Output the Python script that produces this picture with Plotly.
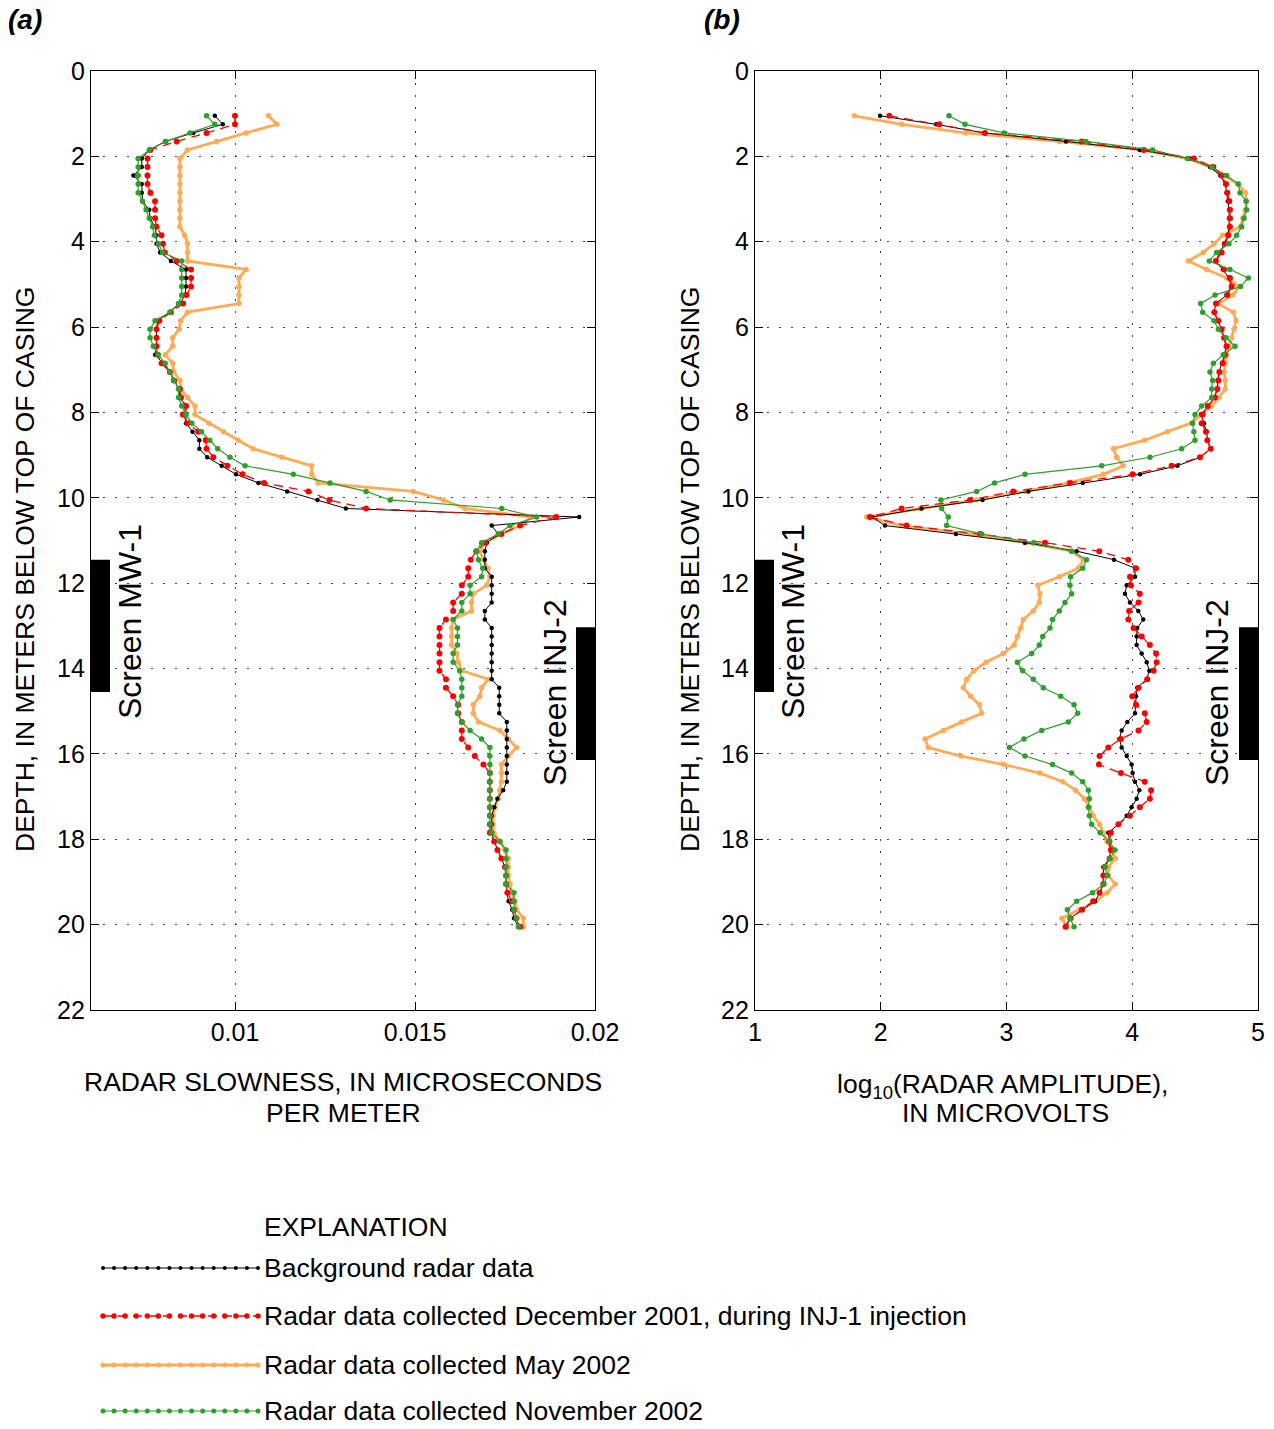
import plotly.graph_objects as go

W, H = 1274, 1429

# ---------------- data ----------------
DEPTH_M = [1.05, 1.25, 1.45, 1.65, 1.85, 2.05, 2.25, 2.45, 2.65, 2.85,
           3.05, 3.25, 3.45, 3.65, 3.85, 4.05, 4.25, 4.45, 4.65, 4.85,
           5.05, 5.25, 5.45, 5.65, 5.85, 6.05, 6.25, 6.45, 6.65, 6.85,
           7.05, 7.25, 7.45, 7.65, 7.85, 8.05, 8.25, 8.45, 8.65, 8.85,
           9.05, 9.25, 9.45, 9.65, 9.85, 10.05, 10.25, 10.45, 10.65, 10.85,
           11.05, 11.25, 11.45, 11.65, 11.85, 12.05, 12.25, 12.45, 12.65, 12.85,
           13.05, 13.25, 13.45, 13.65, 13.85, 14.05, 14.25, 14.45, 14.65, 14.85,
           15.05, 15.25, 15.45, 15.65, 15.85, 16.05, 16.25, 16.45, 16.65, 16.85,
           17.05, 17.25, 17.45, 17.65, 17.85, 18.05, 18.25, 18.45, 18.65, 18.85,
           19.05, 19.25, 19.45, 19.65, 19.85, 20.05]

# (a) radar slowness, microseconds per meter
SLOW_BACKGROUND = [
    0.00944, 0.00966, 0.00884, 0.00806, 0.00762, 0.00741, 0.00741, 0.00718, 0.00741, 0.00741,
    0.00743, 0.00762, 0.00764, 0.00778, 0.00782, 0.00782, 0.00792, 0.00822, 0.00864, 0.00864,
    0.00864, 0.00861, 0.00847, 0.00819, 0.00785, 0.00782, 0.00782, 0.00782, 0.00778, 0.00801,
    0.00819, 0.00833, 0.00843, 0.00847, 0.00864, 0.00864, 0.00864, 0.00882, 0.00901, 0.00901,
    0.00923, 0.00963, 0.01003, 0.01065, 0.01145, 0.01229, 0.01308, 0.01956, 0.01713, 0.01731,
    0.01700, 0.01694, 0.01694, 0.01694, 0.01713, 0.01713, 0.01713, 0.01713, 0.01694, 0.01694,
    0.01713, 0.01713, 0.01713, 0.01713, 0.01713, 0.01713, 0.01713, 0.01734, 0.01734, 0.01734,
    0.01734, 0.01755, 0.01755, 0.01755, 0.01755, 0.01755, 0.01755, 0.01755, 0.01755, 0.01745,
    0.01729, 0.01720, 0.01713, 0.01713, 0.01713, 0.01720, 0.01729, 0.01740, 0.01750, 0.01753,
    0.01755, 0.01755, 0.01760, 0.01770, 0.01775, 0.01787]
SLOW_DEC2001 = [
    0.01000, 0.01000, 0.00921, 0.00838, 0.00765, 0.00757, 0.00757, 0.00757, 0.00757, 0.00765,
    0.00778, 0.00778, 0.00778, 0.00782, 0.00796, 0.00800, 0.00805, 0.00838, 0.00878, 0.00878,
    0.00878, 0.00865, 0.00856, 0.00822, 0.00790, 0.00782, 0.00782, 0.00782, 0.00785, 0.00796,
    0.00819, 0.00830, 0.00847, 0.00850, 0.00864, 0.00855, 0.00868, 0.00898, 0.00919, 0.00921,
    0.00940, 0.00979, 0.01021, 0.01081, 0.01204, 0.01262, 0.01364, 0.01892, 0.01792, 0.01740,
    0.01695, 0.01670, 0.01655, 0.01648, 0.01648, 0.01630, 0.01630, 0.01606, 0.01606, 0.01586,
    0.01568, 0.01568, 0.01568, 0.01568, 0.01568, 0.01568, 0.01586, 0.01586, 0.01606, 0.01620,
    0.01620, 0.01630, 0.01630, 0.01630, 0.01648, 0.01666, 0.01690, 0.01708, 0.01708, 0.01708,
    0.01708, 0.01708, 0.01708, 0.01708, 0.01708, 0.01720, 0.01729, 0.01740, 0.01750, 0.01753,
    0.01753, 0.01757, 0.01769, 0.01775, 0.01782, 0.01792]
SLOW_MAY2002 = [
    0.01093, 0.01116, 0.01031, 0.00949, 0.00868, 0.00847, 0.00847, 0.00847, 0.00847, 0.00847,
    0.00847, 0.00847, 0.00847, 0.00847, 0.00860, 0.00868, 0.00868, 0.00868, 0.01031, 0.01011,
    0.01011, 0.01011, 0.01011, 0.00868, 0.00849, 0.00845, 0.00827, 0.00827, 0.00806, 0.00827,
    0.00830, 0.00847, 0.00849, 0.00868, 0.00889, 0.00889, 0.00928, 0.00968, 0.01009, 0.01051,
    0.01131, 0.01213, 0.01213, 0.01231, 0.01495, 0.01579, 0.01639, 0.01824, 0.01792, 0.01736,
    0.01694, 0.01680, 0.01690, 0.01703, 0.01708, 0.01699, 0.01662, 0.01657, 0.01657, 0.01606,
    0.01602, 0.01602, 0.01602, 0.01616, 0.01620, 0.01630, 0.01703, 0.01685, 0.01680, 0.01662,
    0.01662, 0.01676, 0.01736, 0.01759, 0.01782, 0.01759, 0.01740, 0.01740, 0.01740, 0.01736,
    0.01731, 0.01722, 0.01717, 0.01717, 0.01719, 0.01736, 0.01750, 0.01759, 0.01759, 0.01759,
    0.01764, 0.01769, 0.01778, 0.01782, 0.01801, 0.01801]
SLOW_NOV2002 = [
    0.00921, 0.00944, 0.00875, 0.00808, 0.00762, 0.00731, 0.00731, 0.00731, 0.00731, 0.00731,
    0.00743, 0.00753, 0.00762, 0.00771, 0.00776, 0.00787, 0.00799, 0.00852, 0.00852, 0.00852,
    0.00852, 0.00852, 0.00843, 0.00819, 0.00778, 0.00764, 0.00764, 0.00773, 0.00787, 0.00806,
    0.00819, 0.00830, 0.00843, 0.00843, 0.00852, 0.00864, 0.00880, 0.00907, 0.00930, 0.00952,
    0.00986, 0.01028, 0.01162, 0.01264, 0.01364, 0.01431, 0.01741, 0.01838, 0.01764, 0.01731,
    0.01685, 0.01671, 0.01676, 0.01688, 0.01685, 0.01653, 0.01653, 0.01630, 0.01630, 0.01606,
    0.01618, 0.01618, 0.01618, 0.01606, 0.01606, 0.01624, 0.01630, 0.01630, 0.01630, 0.01618,
    0.01618, 0.01630, 0.01653, 0.01685, 0.01708, 0.01708, 0.01708, 0.01708, 0.01708, 0.01708,
    0.01708, 0.01708, 0.01708, 0.01708, 0.01713, 0.01736, 0.01753, 0.01753, 0.01753, 0.01753,
    0.01753, 0.01775, 0.01775, 0.01775, 0.01782, 0.01787]

# (b) log10(radar amplitude), microvolts
AMP_BACKGROUND = [
    1.994, 2.440, 2.821, 3.473, 4.060, 4.460, 4.620, 4.700, 4.740, 4.750,
    4.760, 4.770, 4.770, 4.770, 4.760, 4.730, 4.700, 4.660, 4.720, 4.770,
    4.785, 4.750, 4.665, 4.650, 4.680, 4.710, 4.730, 4.745, 4.735, 4.715,
    4.690, 4.680, 4.675, 4.655, 4.600, 4.550, 4.570, 4.590, 4.600, 4.620,
    4.540, 4.359, 4.062, 3.606, 3.174, 2.810, 2.325, 1.930, 2.034, 2.598,
    3.147, 3.558, 3.855, 4.022, 4.022, 3.956, 3.942, 3.982, 4.048, 4.088,
    4.040, 4.035, 4.035, 4.075, 4.115, 4.136, 4.115, 4.040, 4.030, 4.025,
    4.022, 3.961, 3.916, 3.897, 3.916, 3.956, 3.995, 4.003, 4.022, 4.056,
    4.035, 3.995, 3.956, 3.889, 3.810, 3.818, 3.828, 3.818, 3.770, 3.770,
    3.770, 3.744, 3.704, 3.606, 3.505, 3.465]
AMP_DEC2001 = [
    2.068, 2.466, 2.829, 3.598, 4.093, 4.491, 4.645, 4.711, 4.746, 4.756,
    4.772, 4.777, 4.777, 4.777, 4.764, 4.738, 4.711, 4.665, 4.730, 4.777,
    4.791, 4.756, 4.666, 4.653, 4.685, 4.711, 4.730, 4.751, 4.738, 4.719,
    4.693, 4.685, 4.677, 4.658, 4.600, 4.560, 4.552, 4.586, 4.597, 4.624,
    4.539, 4.313, 4.003, 3.505, 3.054, 2.710, 2.166, 1.914, 2.206, 2.790,
    3.306, 3.738, 3.969, 4.030, 3.982, 3.990, 4.060, 4.050, 3.975, 3.969,
    4.010, 4.075, 4.140, 4.190, 4.194, 4.170, 4.120, 4.050, 4.000, 4.030,
    4.100, 4.115, 4.050, 3.910, 3.810, 3.740, 3.735, 3.910, 4.100, 4.150,
    4.140, 4.060, 3.980, 3.890, 3.830, 3.818, 3.830, 3.820, 3.780, 3.770,
    3.770, 3.740, 3.690, 3.600, 3.510, 3.470]
AMP_MAY2002 = [
    1.790, 2.166, 2.674, 3.420, 4.075, 4.440, 4.620, 4.730, 4.840, 4.900,
    4.910, 4.900, 4.880, 4.860, 4.720, 4.650, 4.565, 4.446, 4.592, 4.751,
    4.852, 4.800, 4.685, 4.804, 4.825, 4.810, 4.790, 4.770, 4.750, 4.740,
    4.730, 4.740, 4.740, 4.690, 4.630, 4.550, 4.470, 4.280, 4.100, 3.850,
    3.876, 3.929, 3.770, 3.492, 3.147, 2.763, 2.312, 1.888, 2.166, 2.736,
    3.147, 3.518, 3.611, 3.571, 3.420, 3.250, 3.266, 3.261, 3.213, 3.134,
    3.113, 3.086, 3.060, 2.975, 2.837, 2.742, 2.683, 2.657, 2.715, 2.784,
    2.803, 2.644, 2.498, 2.352, 2.378, 2.638, 2.980, 3.266, 3.447, 3.550,
    3.620, 3.660, 3.690, 3.740, 3.770, 3.800, 3.840, 3.865, 3.810, 3.810,
    3.865, 3.800, 3.710, 3.580, 3.440, 3.480]
AMP_NOV2002 = [
    2.543, 2.670, 2.980, 3.632, 4.162, 4.438, 4.632, 4.751, 4.844, 4.857,
    4.905, 4.910, 4.889, 4.870, 4.830, 4.769, 4.671, 4.613, 4.777, 4.923,
    4.862, 4.658, 4.544, 4.560, 4.650, 4.685, 4.746, 4.817, 4.724, 4.645,
    4.618, 4.639, 4.632, 4.632, 4.552, 4.499, 4.480, 4.490, 4.499, 4.393,
    4.141, 3.757, 3.147, 2.905, 2.763, 2.478, 2.484, 2.537, 2.524, 2.803,
    3.214, 3.518, 3.637, 3.606, 3.510, 3.505, 3.518, 3.465, 3.420, 3.367,
    3.346, 3.288, 3.261, 3.200, 3.086, 3.129, 3.213, 3.293, 3.431, 3.537,
    3.566, 3.492, 3.280, 3.139, 3.023, 3.147, 3.367, 3.518, 3.606, 3.651,
    3.659, 3.651, 3.659, 3.677, 3.744, 3.818, 3.863, 3.823, 3.783, 3.802,
    3.775, 3.685, 3.558, 3.484, 3.505, 3.537]

SERIES_NAMES = ["Background radar data",
                "Radar data collected December 2001, during INJ-1 injection",
                "Radar data collected May 2002",
                "Radar data collected November 2002"]

SCREEN_MW1_DEPTH = [11.45, 14.55]
SCREEN_INJ2_DEPTH = [13.03, 16.14]

SLOW_TICKS = [0.01, 0.015, 0.02]
SLOW_TICK_TEXT = ["0.01", "0.015", "0.02"]
AMP_TICKS = [1, 2, 3, 4, 5]
DEPTH_TICKS = [0, 2, 4, 6, 8, 10, 12, 14, 16, 18, 20, 22]

# ---------------- styles ----------------
FONT = "Liberation Sans, Arial, Helvetica, sans-serif"
TICK_SIZE = 25
TITLE_SIZE = 26.5
LEGEND_SIZE = 26.5
SCREEN_SIZE = 32
STYLES = [
    dict(color="#000000", width=1.0, dash="solid", size=4.5),
    dict(color="#ff0000", width=1.3, dash="9px,6px", size=6),
    dict(color="#ffaa55", width=2.8, dash="solid", size=5.5),
    dict(color="#2ca02c", width=1.2, dash="solid", size=5.5),
]
DRAW_ORDER = [2, 0, 1, 3]


def fx(px):
    return px / W


def fy(py):
    return 1 - py / H


fig = go.Figure()

slow = [SLOW_BACKGROUND, SLOW_DEC2001, SLOW_MAY2002, SLOW_NOV2002]
amp = [AMP_BACKGROUND, AMP_DEC2001, AMP_MAY2002, AMP_NOV2002]

for k in DRAW_ORDER:
    st = STYLES[k]
    for vals, xa, ya in [(slow[k], "x", "y"), (amp[k], "x2", "y2")]:
        fig.add_trace(go.Scatter(
            x=vals, y=DEPTH_M, xaxis=xa, yaxis=ya, mode="lines+markers",
            line=dict(color=st["color"], width=st["width"], dash=st["dash"]),
            marker=dict(color=st["color"], size=st["size"]),
            showlegend=False, hoverinfo="skip"))

# legend samples on an auxiliary pixel-space axis
LEG_X0, LEG_X1 = 103, 258
LEG_ROWS = [1268, 1316, 1365, 1411]
n_mark = 15
for k in range(4):
    st = STYLES[k]
    xs = [LEG_X0 + (LEG_X1 - LEG_X0) * j / (n_mark - 1) for j in range(n_mark)]
    fig.add_trace(go.Scatter(
        x=xs, y=[LEG_ROWS[k]] * n_mark, xaxis="x3", yaxis="y3", mode="lines+markers",
        line=dict(color=st["color"], width=st["width"], dash=st["dash"]),
        marker=dict(color=st["color"], size=st["size"] - 0.5),
        showlegend=False, hoverinfo="skip"))

axis_common = dict(
    showline=True, linecolor="black", linewidth=1.2, mirror="allticks",
    ticks="inside", ticklen=8, tickcolor="black", tickwidth=1.2,
    showgrid=True, gridcolor="#444444", gridwidth=1, griddash="2px,10px",
    zeroline=False, tickfont=dict(family=FONT, size=TICK_SIZE, color="black"),
    automargin=False,
)

ydom = [fy(1010), fy(71)]
fig.update_layout(
    width=W, height=H, autosize=False,
    margin=dict(l=0, r=0, t=0, b=0, pad=0),
    paper_bgcolor="white", plot_bgcolor="white",
    showlegend=False,
    xaxis=dict(domain=[fx(91), fx(595)], range=[0.006, 0.02], anchor="y",
               tickvals=SLOW_TICKS, ticktext=SLOW_TICK_TEXT, **axis_common),
    yaxis=dict(domain=ydom, range=[22, 0], anchor="x", tickvals=DEPTH_TICKS, **axis_common),
    xaxis2=dict(domain=[fx(755), fx(1258)], range=[1, 5], anchor="y2",
                tickvals=AMP_TICKS, **axis_common),
    yaxis2=dict(domain=ydom, range=[22, 0], anchor="x2", tickvals=DEPTH_TICKS, **axis_common),
    xaxis3=dict(domain=[0, 1], range=[0, W], visible=False, fixedrange=True),
    yaxis3=dict(domain=[0, fy(1180)], range=[H, 1180], visible=False, fixedrange=True,
                anchor="x3"),
)

# screen bars
bar_w_a = 19 / 36000.0
bar_w_b = 19 / 125.75
shapes = [
    dict(type="rect", xref="x", yref="y", x0=0.006, x1=0.006 + bar_w_a,
         y0=SCREEN_MW1_DEPTH[0], y1=SCREEN_MW1_DEPTH[1], fillcolor="black", line=dict(width=0)),
    dict(type="rect", xref="x", yref="y", x0=0.02 - bar_w_a, x1=0.02,
         y0=SCREEN_INJ2_DEPTH[0], y1=SCREEN_INJ2_DEPTH[1], fillcolor="black", line=dict(width=0)),
    dict(type="rect", xref="x2", yref="y2", x0=1, x1=1 + bar_w_b,
         y0=SCREEN_MW1_DEPTH[0], y1=SCREEN_MW1_DEPTH[1], fillcolor="black", line=dict(width=0)),
    dict(type="rect", xref="x2", yref="y2", x0=5 - bar_w_b, x1=5,
         y0=SCREEN_INJ2_DEPTH[0], y1=SCREEN_INJ2_DEPTH[1], fillcolor="black", line=dict(width=0)),
]
fig.update_layout(shapes=shapes)


def ann(text, x, y, size, xanchor="center", yanchor="middle", angle=0, **kw):
    fig.add_annotation(text=text, x=fx(x), y=fy(y), xref="paper", yref="paper",
                       showarrow=False, xanchor=xanchor, yanchor=yanchor, textangle=angle,
                       font=dict(family=FONT, size=size, color="black"), **kw)


ann("<b><i>(a)</i></b>", 6, 20, 28, xanchor="left")
ann("<b><i>(b)</i></b>", 702, 20, 28, xanchor="left")

ann("DEPTH, IN METERS BELOW TOP OF CASING", 25, 570, TITLE_SIZE, angle=-90)
ann("DEPTH, IN METERS BELOW TOP OF CASING", 690, 570, TITLE_SIZE, angle=-90)

ann("RADAR SLOWNESS, IN MICROSECONDS", 343, 1082, TITLE_SIZE)
ann("PER METER", 343, 1113, TITLE_SIZE)
ann("log<sub>10</sub>(RADAR AMPLITUDE),", 1002, 1086, TITLE_SIZE)
ann("IN MICROVOLTS", 1006, 1113, TITLE_SIZE)

ann("Screen MW-1", 130, 622, SCREEN_SIZE, angle=-90)
ann("Screen INJ-2", 555, 693, SCREEN_SIZE, angle=-90)
ann("Screen MW-1", 793, 622, SCREEN_SIZE, angle=-90)
ann("Screen INJ-2", 1217, 693, SCREEN_SIZE, angle=-90)

ann("EXPLANATION", 262, 1227, LEGEND_SIZE, xanchor="left")
for k in range(4):
    ann(SERIES_NAMES[k], 262, LEG_ROWS[k], LEGEND_SIZE, xanchor="left")

fig.write_html("out.html",
               config={"displayModeBar": False},
               post_script="document.body.style.margin='0px';"
                           "document.body.style.padding='0px';"
                           "document.documentElement.style.overflow='hidden';")
